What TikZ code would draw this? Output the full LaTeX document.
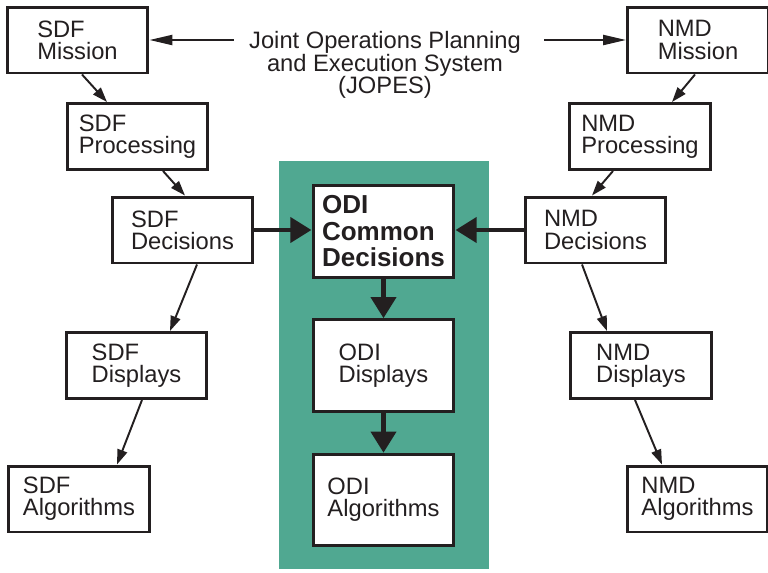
\documentclass[tikz,border=0pt]{standalone}
\usepackage{fontspec}
\setmainfont{Liberation Sans}
\usetikzlibrary{arrows.meta}
\definecolor{odigreen}{RGB}{80,168,145}
\definecolor{ink}{RGB}{35,31,32}

\begin{document}
\begin{tikzpicture}[
    x=0.02cm, y=-0.02cm,
    font=\fontsize{13.5}{12.6}\selectfont,
    unitbox/.style={rectangle,draw=ink,line width=1.7pt,fill=white,minimum width=2.82cm,minimum height=1.32cm,align=left,text=ink},
    odibox/.style={unitbox,minimum height=1.83cm},
    link/.style={-{Triangle[length=8.5pt,width=5.7pt]},draw=ink,line width=1.1pt},
    longlink/.style={-{Triangle[length=13pt,width=5.7pt]},draw=ink,line width=1.1pt},
    flow/.style={-{Triangle[length=12pt,width=14pt]},draw=ink,line width=2.8pt}
]
\useasboundingbox (0,0) rectangle (768,572);

% ODI column background
\fill[odigreen] (279,161) rectangle (489,569);

\node[text=ink,align=center,inner xsep=0.3cm,font=\fontsize{13.5}{13}\selectfont] (jopes) at (385,65) {Joint Operations Planning\\and Execution System\\(JOPES)};

\node[unitbox] (sdfm) at (77.5,40) {SDF\\Mission};
\node[unitbox] (sdfp) at (137.5,136.5) {SDF\\Processing};
\node[unitbox] (sdfd) at (182.5,230) {SDF\\Decisions};
\node[unitbox] (sdfv) at (136.5,365.5) {SDF\\Displays};
\node[unitbox] (sdfa) at (79,499) {SDF\\Algorithms};

\node[odibox,font=\bfseries\fontsize{14.8}{15.1}\selectfont] (odic) at (383.5,231.5) {ODI\\Common\\Decisions};
\node[odibox] (odiv) at (383.5,365.5) {ODI\\Displays};
\node[odibox] (odia) at (383.5,500) {ODI\\Algorithms};

\node[unitbox] (nmdm) at (698,40) {NMD\\Mission};
\node[unitbox] (nmdp) at (640,136.5) {NMD\\Processing};
\node[unitbox] (nmdd) at (595.5,230) {NMD\\Decisions};
\node[unitbox] (nmdv) at (641,365.5) {NMD\\Displays};
\node[unitbox] (nmda) at (697.5,499) {NMD\\Algorithms};

\draw[longlink] (jopes.west |- sdfm.east) -- (sdfm.east);
\draw[longlink] ([xshift=0.16cm]jopes.east |- nmdm.west) -- (nmdm.west);

\draw[link] ([xshift=0.09cm]sdfm.south) -- ([xshift=-0.61cm]sdfp.north);
\draw[link] ([xshift=0.51cm]sdfp.south) -- ([xshift=0.05cm]sdfd.north);
\draw[link] ([xshift=0.29cm]sdfd.south) -- ([xshift=0.67cm]sdfv.north);
\draw[link] ([xshift=0.11cm]sdfv.south) -- ([xshift=0.76cm]sdfa.north);

\draw[link] ([xshift=-0.06cm]nmdm.south) -- ([xshift=0.64cm]nmdp.north);
\draw[link] ([xshift=-0.54cm]nmdp.south) -- ([xshift=-0.07cm]nmdd.north);
\draw[link] ([xshift=-0.27cm]nmdd.south) -- ([xshift=-0.68cm]nmdv.north);
\draw[link] ([xshift=-0.12cm]nmdv.south) -- ([xshift=-0.71cm]nmda.north);

\draw[flow] (sdfd.east) -- (sdfd.east -| odic.west);
\draw[flow] (nmdd.west) -- (nmdd.west -| odic.east);
\draw[flow] (odic) -- (odiv);
\draw[flow] (odiv) -- (odia);
\end{tikzpicture}
\end{document}
